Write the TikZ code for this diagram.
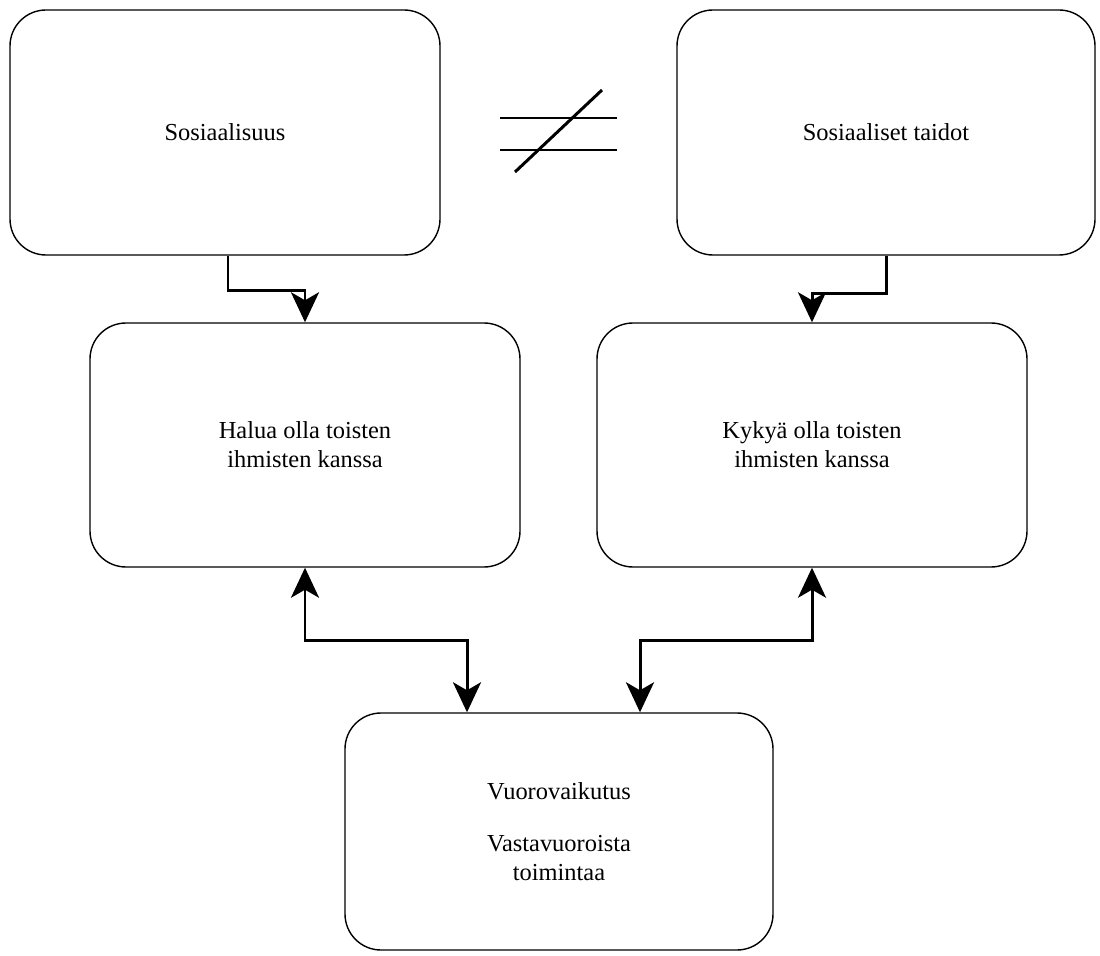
\documentclass[tikz,border=0pt]{standalone}
\usepackage{fontspec}
\setmainfont{Liberation Serif}
\usetikzlibrary{arrows.meta}
\tikzset{
  box/.style={draw, line width=0.8pt, rounded corners=0.72cm, align=center,
    font=\fontsize{13.9}{16.5}\selectfont},
  link/.style={line width=1.7pt, {Stealth[length=6mm,width=5.6mm,inset=1.6mm]}-{Stealth[length=6mm,width=5.6mm,inset=1.6mm]}},
  onelink/.style={line width=1.7pt, -{Stealth[length=6mm,width=5.6mm,inset=1.6mm]}}
}
\begin{document}
\begin{tikzpicture}
	\useasboundingbox (0,0) rectangle (22,-19.12);

	\node [box, minimum width=8.6cm, minimum height=4.9cm] (soc) at (4.5,-2.65) {Sosiaalisuus};
	\node [box, minimum width=8.36cm, minimum height=4.9cm] (taidot) at (17.72,-2.65) {Sosiaaliset taidot};
	\node [box, minimum width=8.6cm, minimum height=4.88cm] (halua) at (6.1,-8.9) {Halua olla toisten\\ihmisten kanssa};
	\node [box, minimum width=8.6cm, minimum height=4.88cm] (kyky) at (16.24,-8.9) {Kykyä olla toisten\\ihmisten kanssa};
	\node [box, minimum width=8.56cm, minimum height=4.74cm] (vuoro) at (11.18,-16.63) {Vuorovaikutus\\[13pt]Vastavuoroista\\toimintaa};

	% not equal sign
	\draw [line width=0.8pt] (10,-2.36) -- (12.34,-2.36);
	\draw [line width=0.8pt] (10,-3) -- (12.34,-3);
	\draw [line width=1.7pt] (10.3,-3.44) -- (12.04,-1.8);

	\draw [onelink] ([xshift=0.06cm]soc.south) -- ++(0,-0.7) -| (halua.north);
	\draw [onelink] (taidot.south) -- ++(0,-0.76) -| (kyky.north);
	\draw [link] (halua.south) -- ++(0,-1.46) -| ([xshift=-1.84cm]vuoro.north);
	\draw [link] (kyky.south) -- ++(0,-1.46) -| ([xshift=1.62cm]vuoro.north);
\end{tikzpicture}
\end{document}
